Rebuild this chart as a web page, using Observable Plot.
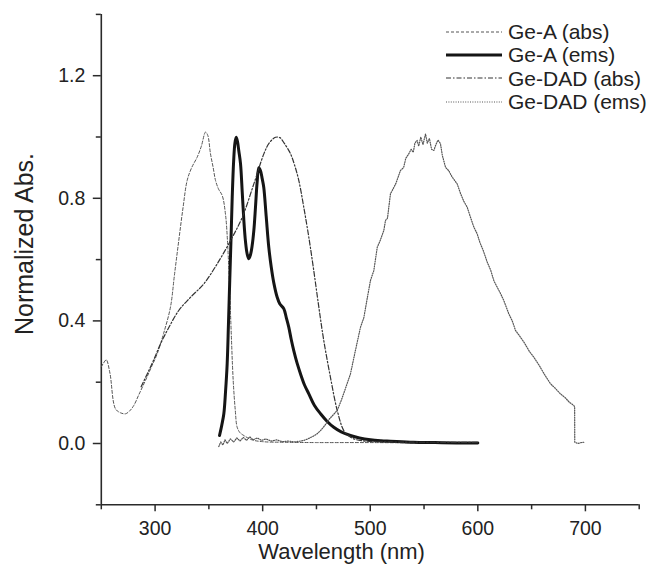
<!DOCTYPE html>
<html>
<head>
<meta charset="utf-8">
<script src="https://cdn.jsdelivr.net/npm/d3@7"></script>
<script src="https://cdn.jsdelivr.net/npm/@observablehq/plot@0.6"></script>
<style>
  html, body { margin: 0; padding: 0; background: #fff; }
  #wrap { position: relative; width: 656px; height: 565px; overflow: hidden; font-family: "Liberation Sans", Arial, sans-serif; color: #222; }
  #wrap svg { display: block; }
  .ttl { position: absolute; white-space: nowrap; line-height: 1; }
  #legend { position: absolute; left: 445px; top: 20px; font-size: 21px; line-height: 23.3px; }
  #legend .row { display: flex; align-items: center; height: 23.3px; }
  #legend svg { margin-right: 6px; }
</style>
</head>
<body>
<div id="wrap"></div>
<script>
// ---- Data ----
const seriesNames = ["Ge-A (abs)", "Ge-A (ems)", "Ge-DAD (abs)", "Ge-DAD (ems)"];

const geAAbsX = [250, 252, 254.6, 258, 263.2, 268, 272.5, 276, 280.2, 285, 291.1, 296, 302, 308, 314.3, 318, 322, 326, 329.8, 334, 339.1, 343, 346.9, 349, 351.5, 354, 356.2, 359, 362.4, 365.4, 367.6, 370.1, 372.6, 374.5, 376.3, 379, 382.5, 390, 400, 420, 450, 500, 550, 600];
const geAAbsY = [0.25, 0.262, 0.273, 0.23, 0.113, 0.1, 0.097, 0.105, 0.124, 0.16, 0.206, 0.245, 0.293, 0.36, 0.445, 0.55, 0.662, 0.77, 0.858, 0.9, 0.934, 0.97, 1.016, 1.005, 0.945, 0.9, 0.858, 0.83, 0.809, 0.749, 0.64, 0.423, 0.206, 0.11, 0.053, 0.035, 0.026, 0.012, 0.006, 0.004, 0.003, 0.003, 0.002, 0.002];

const geAEmsX = [359.9, 362, 363.9, 365.5, 367, 368.2, 369.4, 370.6, 371.7, 373, 374.2, 375.4, 376.6, 377.8, 379.4, 381, 382.5, 384, 385.5, 387.1, 388.6, 390.2, 391.8, 393.3, 394.8, 396.4, 398, 399.5, 401, 403.3, 405.7, 408, 410.3, 413.5, 416, 419.6, 422, 424.3, 426.5, 428.9, 432, 435.2, 439, 442.9, 448, 453.8, 460, 466.1, 473, 481.6, 490, 500.2, 510, 518.8, 540, 560, 580, 600];
const geAEmsY = [0.026, 0.06, 0.097, 0.17, 0.26, 0.39, 0.532, 0.67, 0.804, 0.92, 0.98, 0.999, 0.985, 0.955, 0.913, 0.82, 0.728, 0.66, 0.62, 0.603, 0.615, 0.645, 0.695, 0.77, 0.85, 0.9, 0.89, 0.865, 0.836, 0.74, 0.64, 0.575, 0.525, 0.477, 0.455, 0.44, 0.41, 0.379, 0.34, 0.303, 0.262, 0.227, 0.19, 0.162, 0.125, 0.097, 0.072, 0.053, 0.038, 0.026, 0.018, 0.012, 0.009, 0.0075, 0.004, 0.003, 0.002, 0.002];

const geDadAbsX = [287, 292.7, 299, 305, 313, 322, 332.9, 345.3, 357.7, 370.1, 381, 391.8, 401.1, 406, 412, 416, 420, 425.9, 429.5, 433.6, 438.2, 442.9, 447.5, 452.2, 456.8, 463, 469.3, 475.4, 480, 484.7, 495, 520, 560, 600];
const geDadAbsY = [0.185, 0.227, 0.275, 0.325, 0.38, 0.434, 0.477, 0.521, 0.586, 0.662, 0.738, 0.847, 0.945, 0.98, 0.999, 0.998, 0.98, 0.945, 0.91, 0.858, 0.771, 0.673, 0.564, 0.445, 0.336, 0.216, 0.108, 0.042, 0.025, 0.015, 0.008, 0.005, 0.004, 0.004];

const geDadEmsX = [359.2, 361, 363, 365, 367, 370, 373, 376, 379, 382, 385, 388, 391, 395, 399, 403, 408, 413, 418, 424, 430, 435, 438.2, 442, 446, 450, 453.8, 458, 462, 466, 469.3, 473, 477, 481.6, 486, 490.9, 494, 497, 500.2, 503.3, 506.5, 509, 512.6, 514.2, 516, 518.8, 520.4, 524, 528.1, 531, 533, 535.8, 538, 540, 541.5, 543.6, 545, 547, 549, 551.4, 553, 555, 557, 559.1, 561, 563, 565.3, 567, 570, 573, 576, 580.8, 584, 587, 590.1, 593, 596.3, 599.4, 602, 605, 608.7, 612, 615, 618, 621, 624.1, 628.8, 632, 635, 639, 643, 648, 652, 657, 662, 667.5, 672, 676.8, 681, 685, 689.2, 690, 690.1, 693, 696, 698.5];
const geDadEmsY = [-0.01, 0.005, -0.005, 0.012, 0.0, 0.015, 0.005, 0.018, 0.008, 0.02, 0.01, 0.022, 0.012, 0.018, 0.01, 0.015, 0.008, 0.012, 0.006, 0.008, 0.005, 0.008, 0.01, 0.015, 0.022, 0.03, 0.042, 0.06, 0.08, 0.095, 0.108, 0.14, 0.18, 0.227, 0.3, 0.379, 0.41, 0.47, 0.532, 0.564, 0.64, 0.66, 0.695, 0.728, 0.735, 0.815, 0.825, 0.85, 0.891, 0.9, 0.93, 0.945, 0.96, 0.95, 0.98, 0.989, 0.97, 1.0, 0.975, 1.01, 0.98, 0.995, 0.96, 0.956, 0.975, 0.99, 0.978, 0.94, 0.901, 0.89, 0.87, 0.847, 0.815, 0.79, 0.771, 0.74, 0.706, 0.684, 0.655, 0.63, 0.592, 0.565, 0.53, 0.51, 0.49, 0.467, 0.423, 0.4, 0.369, 0.35, 0.33, 0.3, 0.282, 0.255, 0.225, 0.195, 0.18, 0.162, 0.15, 0.135, 0.124, 0.12, 0.004, 0.0, 0.003, 0.004];

const xMajorTicks = [300, 400, 500, 600, 700];
const xMinorTicks = [250, 350, 450, 550, 650, 750];
const yMajorTicks = [0.0, 0.4, 0.8, 1.2];
const yMinorTicks = [-0.2, 0.2, 0.6, 1.0, 1.4];
const xTitle = "Wavelength (nm)";
const yTitle = "Normalized Abs.";

// ---- Styles ----
const styles = [
  {stroke: "#555", strokeWidth: 1, strokeDasharray: "3,2", curve: "catmull-rom"},
  {stroke: "#151515", strokeWidth: 3, strokeDasharray: null, curve: "catmull-rom"},
  {stroke: "#333", strokeWidth: 1.2, strokeDasharray: "5,2,1.5,2", curve: "catmull-rom"},
  {stroke: "#555", strokeWidth: 1.2, strokeDasharray: "1,1.4", curve: "linear"}
];
const seriesX = [geAAbsX, geAEmsX, geDadAbsX, geDadEmsX];
const seriesY = [geAAbsY, geAEmsY, geDadAbsY, geDadEmsY];

const axisColor = "#2a2a2a";
const font = "'Liberation Sans', Arial, sans-serif";

const lineMarks = seriesX.map((xs, i) =>
  Plot.line(xs, {x: xs, y: seriesY[i], ...Object.fromEntries(Object.entries(styles[i]).filter(([k, v]) => v != null))})
);

const chart = Plot.plot({
  width: 656,
  height: 565,
  marginLeft: 100.8,
  marginRight: 17.3,
  marginTop: 13.9,
  marginBottom: 60.7,
  style: {fontFamily: font, background: "#fff", color: "#222"},
  x: {domain: [250, 750]},
  y: {domain: [-0.2, 1.4]},
  marks: [
    Plot.axisX({ticks: xMajorTicks, tickSize: 7, tickPadding: 9, fontSize: 19.5, tickFormat: d => String(d), label: null, stroke: axisColor, strokeWidth: 1.5, fill: "#222"}),
    Plot.axisX({ticks: xMinorTicks, tickSize: 5, tickFormat: () => "", label: null, stroke: axisColor, strokeWidth: 1.5}),
    Plot.axisY({ticks: yMajorTicks, tickSize: 8, tickPadding: 8, fontSize: 19.5, tickFormat: d3.format(".1f"), label: null, stroke: axisColor, strokeWidth: 1.5, fill: "#222"}),
    Plot.axisY({ticks: yMinorTicks, tickSize: 5, tickFormat: () => "", label: null, stroke: axisColor, strokeWidth: 1.5}),
    Plot.ruleX([250], {stroke: axisColor, strokeWidth: 1.6}),
    Plot.ruleY([-0.2], {stroke: axisColor, strokeWidth: 1.6}),
    ...lineMarks
  ]
});

const wrap = document.getElementById("wrap");
wrap.appendChild(chart);

// Axis titles
const xt = document.createElement("div");
xt.className = "ttl";
xt.textContent = xTitle;
xt.style.fontSize = "22px";
xt.style.left = "341.6px";
xt.style.top = "541px";
xt.style.transform = "translateX(-50%)";
wrap.appendChild(xt);

const yt = document.createElement("div");
yt.className = "ttl";
yt.textContent = yTitle;
yt.style.fontSize = "25px";
yt.style.left = "24px";
yt.style.top = "244px";
yt.style.transform = "translate(-50%, -50%) rotate(-90deg)";
wrap.appendChild(yt);

// Legend
const legend = document.createElement("div");
legend.id = "legend";
seriesNames.forEach((name, i) => {
  const row = document.createElement("div");
  row.className = "row";
  const s = styles[i];
  const dash = s.strokeDasharray ? `stroke-dasharray="${s.strokeDasharray}"` : "";
  row.innerHTML = `<svg width="57" height="10"><line x1="1" x2="57" y1="5" y2="5" stroke="${s.stroke}" stroke-width="${s.strokeWidth}" ${dash}/></svg><span>${name}</span>`;
  legend.appendChild(row);
});
wrap.appendChild(legend);
</script>
</body>
</html>
